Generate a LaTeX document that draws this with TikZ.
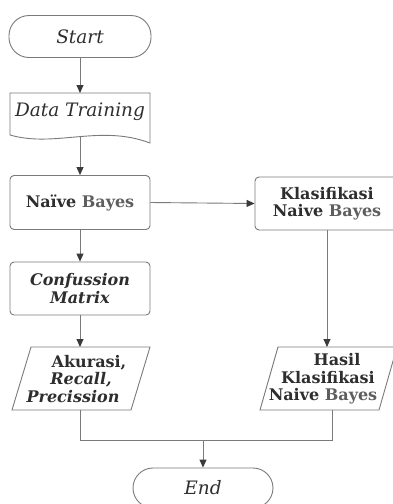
\documentclass[tikz,border=0pt]{standalone}
\usepackage{fontspec}
\setmainfont{DejaVu Serif}
\usetikzlibrary{arrows.meta}
\definecolor{linec}{HTML}{7A7A7A}
\definecolor{tipc}{HTML}{3A3A3A}
\definecolor{txt}{HTML}{2E2E2E}
\definecolor{txtlight}{HTML}{5E5E5E}
\tikzset{
  x=1pt, y=-1pt,
  shapeline/.style={draw=linec, line width=0.9pt, fill=white},
  terminal/.style={shapeline, rounded corners=20pt, minimum width=142pt, minimum height=42pt, inner sep=0pt},
  procbox/.style={shapeline, rounded corners=4pt, minimum width=140pt, minimum height=54pt, inner sep=0pt, align=center},
  label/.style={text=txt, font=\fontsize{16}{17.5}\selectfont, align=center, inner sep=0pt},
  itlabel/.style={label, font=\fontsize{18.5}{20}\selectfont\itshape},
  conn/.style={draw=linec, line width=0.9pt, -{Triangle[length=8pt,width=7pt,color=tipc]}},
  plain/.style={draw=linec, line width=0.9pt},
}
\newcommand{\by}{\textcolor{txtlight}{Bayes}}
\begin{document}
\begin{tikzpicture}
\useasboundingbox (0,0) rectangle (393,504);

% Start
\node[terminal, itlabel] (start) at (80,36.5) {Start};

% Data Training (document shape)
\draw[shapeline] (10,93) -- (150,93) -- (150,143)
  .. controls (100,124) and (55,148) .. (10,135) -- cycle;
\node[itlabel] (data) at (80,112) {Data Training};
\coordinate (datab) at (80,135.5);
\coordinate (datat) at (80,93);

% Naive Bayes
\node[procbox, label] (nb) at (80,202.5) {\textbf{Naïve \by}};

% Klasifikasi
\node[procbox, label, minimum width=144pt, minimum height=53pt] (kl) at (327,203.5)
  {\textbf{Klasifikasi}\\\textbf{Naive \by}};

% Confussion Matrix
\node[procbox, label, minimum height=53pt] (cm) at (80,288.5)
  {\textbf{\textit{Confussion}}\\\textbf{\textit{Matrix}}};

% Akurasi parallelogram
\draw[shapeline] (12,410) -- (31,347) -- (150,347) -- (131,410) -- cycle;
\node[label] (ak) at (81,379)
  {\hspace*{16pt}\textbf{Akurasi,}\\\textbf{\textit{Recall,}}\\\textbf{\textit{Precission}}\hspace*{16pt}};
\coordinate (akt) at (80,347);
\coordinate (akb) at (80,410);

% Hasil parallelogram
\draw[shapeline] (260,410) -- (278,347) -- (397,347) -- (379,410) -- cycle;
\node[label] (hs) at (328,379)
  {\hspace*{18pt}\textbf{Hasil}\\\textbf{Klasifikasi}\\\textbf{Naive \by}\hspace*{10pt}};
\coordinate (hst) at (327,347);
\coordinate (hsb) at (332,410);

% End
\node[terminal, itlabel, minimum width=140pt, minimum height=40pt] (end) at (203,488) {End};

% connectors
\draw[conn] (start.south) -- (datat);
\draw[conn] (datab) -- (nb.north);
\draw[conn] (nb.east) -- (kl.west);
\draw[conn] (nb.south) -- (cm.north);
\draw[conn] (cm.south) -- (akt);
\draw[conn] (kl.south) -- (hst);
\coordinate (m1) at (80,440);
\coordinate (m2) at (332,440);
\coordinate (mid) at (203,440);
\draw[plain] (akb) -- (m1) -- (m2) -- (hsb);
\draw[conn] (mid) -- (end.north);
\end{tikzpicture}
\end{document}
